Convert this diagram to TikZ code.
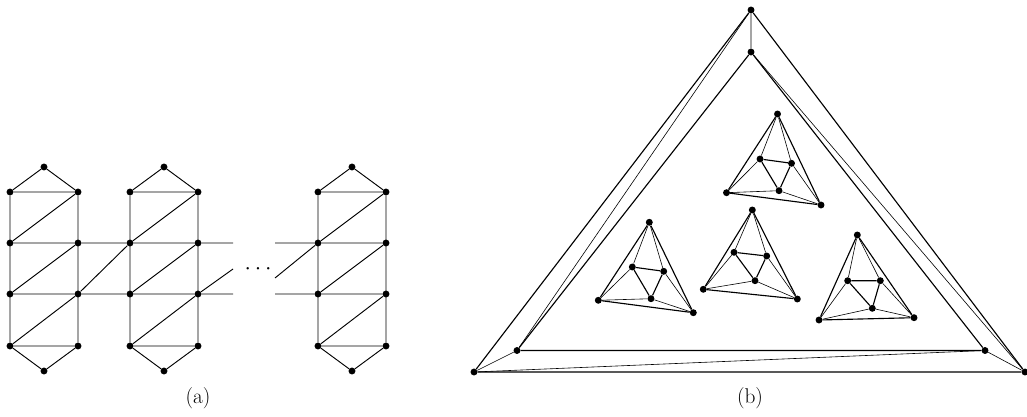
\documentclass[tikz,border=0pt]{standalone}
\usepackage{tikz}
\usetikzlibrary{positioning}
\tikzset{
  dot/.style={circle, fill=black, inner sep=0pt, minimum size=5.2pt},
  ladder/.style={line width=0.7pt},
  frame/.style={line width=0.85pt},
  link/.style={line width=0.45pt},
  caption/.style={font=\fontsize{16}{19}\selectfont}
}

\begin{document}
\begin{tikzpicture}[x=0.75pt, y=-0.75pt]
    \useasboundingbox (0,0) rectangle (1027,417);

    % (a) the ladder columns
    \foreach \c/\x in {1/10, 2/130, 3/318} {
      \node[dot] (t\c) at (\x+34,167) {};
      \foreach \r/\y in {1/192, 2/243, 3/294, 4/346} {
        \node[dot] (l\c\r) at (\x,\y) {};
        \node[dot] (r\c\r) at (\x+68,\y) {};
      }
      \node[dot] (b\c) at (\x+34,371) {};
      \draw[ladder] (l\c1) -- (t\c) -- (r\c1) -- (l\c1) -- (l\c4) -- (b\c) -- (r\c4)
        -- (l\c4) -- (r\c3) -- (l\c3) -- (r\c2) -- (l\c2) -- (r\c1) -- (r\c4);
    }
    \coordinate (g1) at (233,243);
    \coordinate (g2) at (233,294);
    \coordinate (g3) at (233,269);
    \coordinate (h1) at (275,243);
    \coordinate (h2) at (275,294);
    \coordinate (h3) at (275,278);
    \draw[ladder] (r12) -- (l22) (r13) -- (l23) (r13) -- (l22);
    \draw[ladder] (r22) -- (g1) (r23) -- (g2) (r23) -- (g3);
    \draw[ladder] (h1) -- (l32) (h2) -- (l33) (h3) -- (l32);
    \node[caption, inner sep=0pt] (gap) at (258,269) {$\cdots$};
    \node[caption] (capa) at (198,398) {(a)};

    % (b) the nested triangles
    \node[dot] (o1) at (751,10) {};
    \node[dot] (o2) at (474,372) {};
    \node[dot] (o3) at (1025,372) {};
    \node[dot] (i1) at (751,52) {};
    \node[dot] (i2) at (517,350.5) {};
    \node[dot] (i3) at (985,350.5) {};
    \draw[frame] (o1) -- (o2) -- (o3) -- (o1);
    \draw[frame] (i1) -- (i2) -- (i3) -- (i1);
    \draw[link] (o1) -- (i1) (o1) -- (i2) (o2) -- (i2) (o2) -- (i3) (o3) -- (i3) (o3) -- (i1);

    % (b) the small octahedra
    \foreach \g/\ga/\gl/\gr/\gm/\gx/\gy in {
        A/{777.5,114}/{760,159}/{791.5,163.3}/{779,190.7}/{726.5,192.7}/{821,205},
        B/{752.3,210}/{734,252.3}/{766.7,256}/{755,280.7}/{703.3,289.3}/{797.3,299},
        C/{649.3,222.3}/{632.3,267}/{663.7,271.3}/{651,298.7}/{598.3,300.3}/{693.3,312.7},
        D/{857.3,235}/{847.7,280.7}/{880.3,280.7}/{872.3,308.3}/{819,320}/{914,317.7}} {
      \node[dot] (\g a) at (\ga) {};
      \node[dot] (\g l) at (\gl) {};
      \node[dot] (\g r) at (\gr) {};
      \node[dot] (\g m) at (\gm) {};
      \node[dot] (\g x) at (\gx) {};
      \node[dot] (\g y) at (\gy) {};
      \draw[frame] (\g a) -- (\g x) -- (\g y) -- (\g a) (\g l) -- (\g r) -- (\g m) -- (\g l);
      \draw[link] (\g a) -- (\g l) (\g a) -- (\g r) (\g x) -- (\g l) (\g x) -- (\g m)
        (\g y) -- (\g m) (\g y) -- (\g r);
    }
    \node[caption] (capb) at (750,398) {(b)};
\end{tikzpicture}
\end{document}
